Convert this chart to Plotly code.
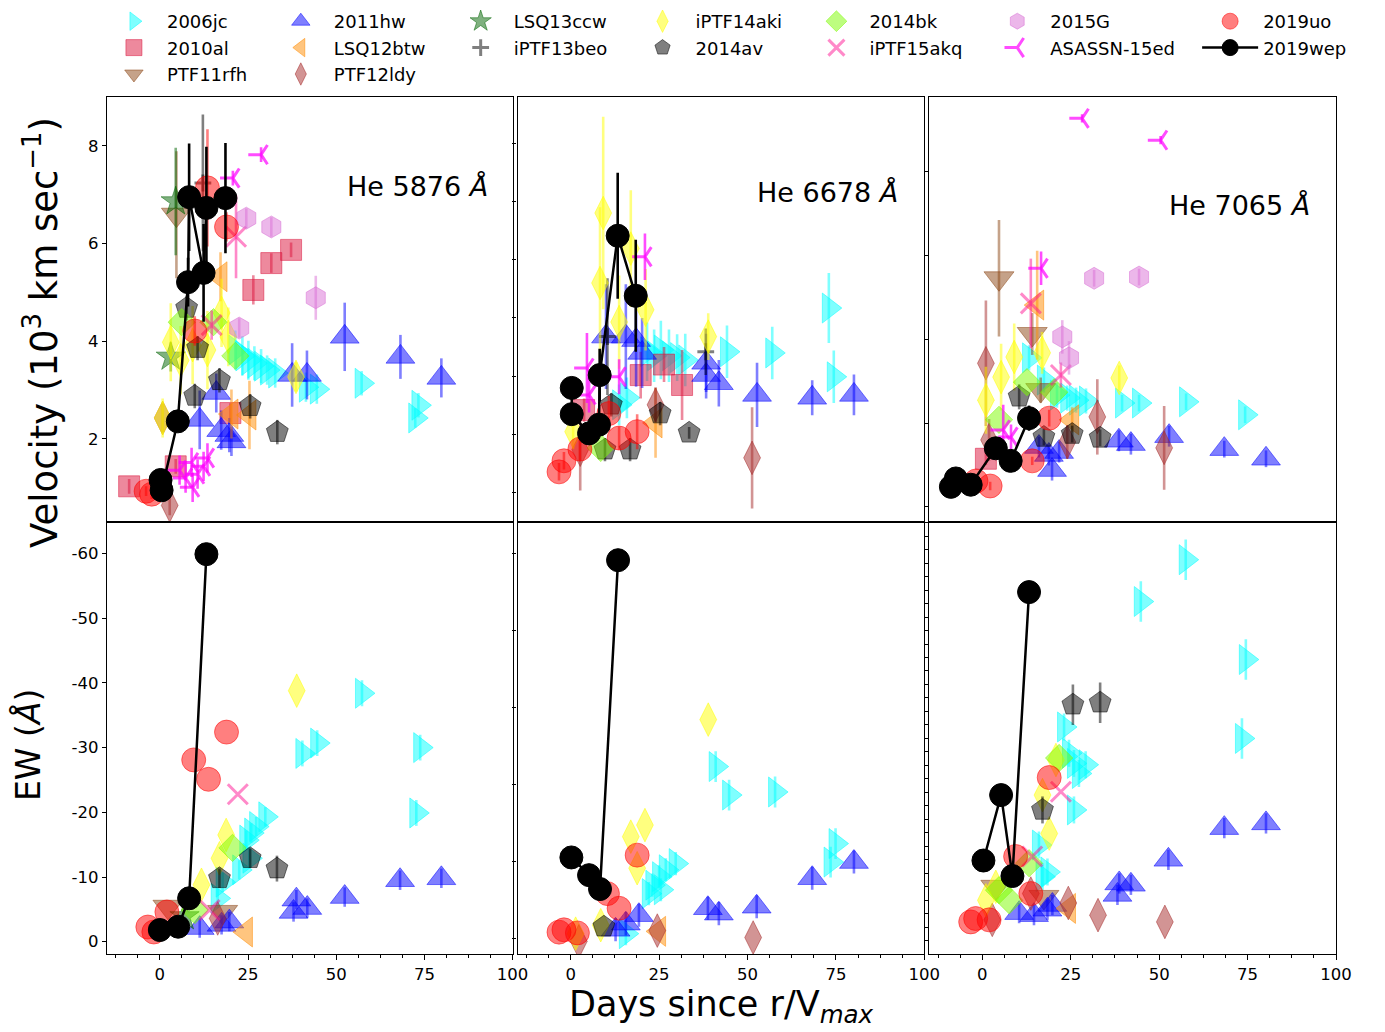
import plotly.graph_objects as go

# Panels: v1, v2, v3 = velocity (10^3 km/s) of He I 5876, 6678, 7065
#         e1, e2, e3 = equivalent width (Angstrom) of the same lines
# Each entry: (days since r/V max, values, 1-sigma errors or None)

SN2006jc = {
    'v1': ([21.4, 23.4, 25.1, 26.8, 28.7, 30.4, 32.7, 41.4, 44.5, 57.2, 73.3, 72.4],
           [3.82, 3.70, 3.61, 3.55, 3.49, 3.41, 3.35, 3.06, 3.02, 3.14, 2.69, 2.43],
           [0.4, 0.4, 0.4, 0.35, 0.35, 0.3, 0.3, 0.3, 0.3, 0.25, 0.25, 0.2]),
    'v2': ([13.7, 15.9, 21.6, 23.6, 25.5, 27.8, 30.1, 32.4, 44.2, 57.0, 73.0, 74.4],
           [2.51, 2.63, 3.42, 3.35, 3.45, 3.35, 3.32, 3.28, 3.42, 3.40, 4.17, 2.99],
           [0.35, 0.35, 0.5, 0.45, 0.5, 0.45, 0.4, 0.45, 0.45, 0.45, 0.6, 0.45]),
    'v3': ([13.2, 17.4, 21.1, 24.0, 26.5, 29.3, 39.5, 44.3, 57.6, 74.3],
           [3.56, 3.03, 2.67, 2.60, 2.55, 2.53, 2.48, 2.48, 2.51, 2.20],
           [0.3, 0.3, 0.3, 0.3, 0.3, 0.3, 0.2, 0.2, 0.2, 0.2]),
    'e1': ([16.4, 17.8, 22.5, 24.5, 25.4, 25.9, 27.3, 29.9, 40.4, 44.6, 57.3, 72.7, 73.8],
           [-6.7, -9.2, -11.1, -15.7, -12.9, -16.8, -17.8, -19.3, -29.1, -30.7, -38.4, -19.9, -30.0],
           [1.5, 1.5, 1.5, 1.5, 1.5, 1.5, 1.5, 1.5, 2.0, 2.0, 2.0, 2.0, 2.0]),
    'e2': ([15.6, 22.1, 23.1, 25.0, 25.5, 26.9, 29.7, 41.0, 44.8, 57.8, 73.5, 74.9],
           [-0.6, -5.8, -6.9, -8.0, -6.3, -8.9, -9.7, -22.3, -18.6, -19.0, -9.9, -12.3],
           [1.5, 1.5, 1.5, 1.5, 1.5, 1.5, 1.5, 2.0, 2.0, 2.0, 2.0, 2.0]),
    'e3': ([16.0, 17.0, 18.4, 23.1, 24.5, 25.9, 25.9, 27.3, 29.2, 44.8, 57.5, 73.4, 74.5],
           [-12.2, -7.5, -8.2, -29.7, -25.8, -24.3, -17.4, -22.8, -24.1, -48.3, -54.5, -28.0, -39.7],
           [2.0, 2.0, 2.0, 2.0, 2.0, 2.0, 2.0, 2.0, 2.0, 3.0, 3.0, 3.0, 3.0]),
}

SN2010al = {
    'v1': ([-8.7, 4.5, 20.0, 26.5, 31.6, 37.2],
           [1.03, 1.44, 2.53, 5.05, 5.60, 5.87],
           [0.15, 0.15, 0.2, 0.3, 0.2, 0.15]),
    'v2': ([3.8, 19.8, 26.4, 31.5],
           [2.42, 3.02, 3.20, 2.85],
           [0.2, 0.4, 0.3, 0.6]),
    'v3': ([1.0], [1.15], [0.15]),
}

PTF11rfh = {
    'v1': ([4.7], [6.59], [1.3]),
    'v3': ([4.7, 14.1, 16.5], [5.46, 4.13, 2.79], [1.39, 0.5, 0.3]),
    'e1': ([2.3, 17.8], [-5.4, -4.6], None),
    'e3': ([3.8, 17.4], [-6.0, -4.5], None),
}

SN2011hw = {
    'v1': ([11.3, 16.0, 17.4, 19.7, 20.3, 37.5, 41.7, 52.4, 68.2, 79.8],
           [2.39, 2.94, 2.18, 2.08, 1.95, 3.31, 3.31, 4.09, 3.68, 3.25],
           [0.6, 0.4, 0.4, 0.35, 0.3, 0.65, 0.5, 0.7, 0.45, 0.4]),
    'v2': ([10.0, 15.6, 18.5, 20.2, 38.3, 38.3, 41.9, 52.7, 68.3, 80.1],
           [3.68, 3.68, 3.62, 3.40, 3.23, 3.02, 2.88, 2.68, 2.63, 2.68],
           [0.9, 0.9, 0.8, 0.6, 0.5, 0.4, 0.4, 0.55, 0.3, 0.35]),
    'v3': ([16.0, 18.8, 19.7, 21.7, 38.6, 42.0, 52.8, 68.4, 80.2],
           [1.43, 1.24, 0.88, 1.31, 1.58, 1.50, 1.69, 1.38, 1.15],
           [0.25, 0.25, 0.25, 0.25, 0.25, 0.25, 0.25, 0.2, 0.2]),
    'e1': ([11.3, 17.5, 19.7, 37.9, 38.7, 41.8, 52.4, 68.1, 79.8],
           [-2.1, -2.6, -3.1, -4.6, -6.5, -5.2, -6.9, -9.5, -9.8],
           [1.5, 1.5, 1.5, 1.5, 1.5, 1.5, 1.5, 1.5, 1.5]),
    'e2': ([12.7, 15.6, 19.3, 38.8, 41.9, 52.6, 68.3, 80.1],
           [-1.1, -1.9, -3.0, -3.9, -3.2, -4.1, -7.8, -9.9],
           [1.5, 1.5, 1.5, 1.5, 1.5, 1.5, 1.5, 1.5]),
    'e3': ([10.4, 14.6, 18.4, 19.8, 38.2, 38.7, 42.0, 52.6, 68.4, 80.2],
           [-2.1, -1.8, -2.6, -3.3, -4.8, -6.5, -6.3, -10.0, -14.7, -15.4],
           [1.5, 1.5, 1.5, 1.5, 1.5, 1.5, 1.5, 1.5, 1.5, 1.5]),
}

LSQ12btw = {
    'v1': ([17.2, 20.3, 25.4], [5.32, 2.51, 2.49], [0.5, 0.5, 0.7]),
    'v2': ([24.0], [2.20], [0.6]),
    'v3': ([15.5, 25.4], [4.82, 2.08], [1.3, 0.3]),
    'e1': ([24.4], [-1.5], None),
    'e2': ([25.0], [-0.9], None),
    'e3': ([24.5], [-2.8], None),
}

PTF12ldy = {
    'v1': ([0.8, 2.8], [2.43, 0.64], [0.3, 0.2]),
    'v2': ([2.7, 24.0, 51.3], [1.74, 2.51, 1.60], [0.7, 0.3, 0.87]),
    'v3': ([1.0, 1.9, 24.0, 32.5, 51.4], [3.43, 1.60, 1.55, 2.15, 1.41], [1.5, 0.5, 0.4, 0.9, 1.0]),
    'e1': ([16.4], [-3.6], None),
    'e2': ([2.3, 24.5, 51.6], [0.4, -1.0, -0.1], None),
    'e3': ([2.8, 13.7, 24.3, 32.7, 51.6], [-1.1, -5.0, -3.6, -1.8, -0.8], None),
}

LSQ13ccw = {
    'v1': ([3.1, 4.5], [3.68, 6.86], [0.3, 1.1]),
    'e1': ([7.0], [-3.9], None),
}

iPTF13beo = {
    'v1': ([12.2], [7.24], [1.4]),
    'v2': ([10.4, 38.2], [3.68, 3.42], [1.0, 0.4]),
}

iPTF14aki = {
    'v1': ([0.8, 3.1, 5.9, 9.3, 13.5, 17.5, 19.4, 38.6],
           [2.43, 3.98, 3.61, 3.92, 3.82, 4.58, 4.09, 3.27],
           [0.4, 0.8, 0.7, 0.8, 0.8, 0.7, 0.6, 0.3]),
    'v2': ([0.7, 8.3, 9.2, 13.7, 17.0, 21.2, 38.9],
           [2.05, 4.60, 5.80, 3.93, 5.19, 4.14, 3.68],
           [0.3, 1.3, 1.65, 0.8, 1.0, 0.7, 0.4]),
    'v3': ([1.0, 5.3, 9.0, 16.9, 38.7],
           [2.55, 3.10, 3.58, 3.68, 3.08],
           [0.8, 0.8, 0.8, 0.5, 0.3]),
    'e1': ([11.8, 16.9, 18.8, 38.8], [-8.8, -12.9, -16.5, -38.8], None),
    'e2': ([1.4, 8.5, 17.0, 18.8, 21.0, 38.9], [-0.6, -1.7, -13.2, -9.1, -14.7, -28.4], None),
    'e3': ([1.0, 3.8, 17.0, 18.9, 20.8], [-4.0, -6.0, -19.6, -13.9, -24.8], None),
}

SN2014av = {
    'v1': ([7.6, 9.9, 10.7, 16.9, 25.6, 33.3], [4.68, 2.88, 3.86, 3.20, 2.67, 2.14],
           [0.25, 0.25, 0.25, 0.25, 0.25, 0.25]),
    'v2': ([9.7, 11.5, 16.8, 25.3, 33.5], [1.74, 2.51, 1.74, 2.36, 2.03], [0.2, 0.2, 0.2, 0.2, 0.1]),
    'v3': ([10.4, 17.4, 25.4, 33.3], [2.63, 1.67, 1.74, 1.65], [0.3, 0.2, 0.2, 0.2]),
    'e1': ([16.9, 25.6, 33.2], [-9.8, -12.9, -11.3], [1.5, 1.5, 2.0]),
    'e2': ([9.4], [-1.5], None),
    'e3': ([17.0, 25.6, 33.3], [-17.4, -33.0, -33.3], [2.0, 3.0, 3.0]),
}

SN2014bk = {
    'v1': ([6.2, 15.2, 21.4], [4.39, 4.39, 3.70], None),
    'v2': ([8.5], [1.77], None),
    'v3': ([4.7, 12.6, 20.3], [2.08, 2.98, 2.74], None),
    'e1': ([9.9, 20.6], [-4.9, -14.5], None),
    'e3': ([4.7, 7.6, 13.2, 21.7], [-5.5, -4.0, -9.5, -25.1], None),
}

iPTF15akq = {
    'v1': ([14.7, 21.6], [4.33, 6.14], [0.3, 0.85]),
    'v3': ([13.7, 22.2], [4.86, 3.15], [1.07, 0.3]),
    'e1': ([14.1, 22.1], [-4.9, -22.8], None),
    'e3': ([14.1, 22.2], [-10.5, -20.1], None),
}

SN2015G = {
    'v1': ([22.5, 24.5, 31.6, 44.2], [4.27, 6.52, 6.34, 4.89], [0.2, 0.2, 0.2, 0.45]),
    'v3': ([22.6, 24.5, 31.6, 44.3], [4.06, 3.56, 5.46, 5.49], [0.4, 0.4, 0.2, 0.2]),
}

ASASSN15ed = {
    'v1': ([5.6, 7.3, 9.0, 9.3, 10.7, 12.4, 13.5, 20.7, 28.7],
           [1.36, 1.20, 1.52, 1.01, 1.28, 1.44, 1.61, 7.34, 7.82],
           [0.3, 0.3, 0.3, 0.3, 0.3, 0.3, 0.3, 0.15, 0.15]),
    'v2': ([4.6, 5.2, 13.7, 21.0], [3.14, 2.68, 2.99, 5.05], [0.6, 0.3, 0.3, 0.4]),
    'v3': ([5.9, 8.1, 16.6, 28.2, 50.4], [1.84, 1.67, 5.70, 9.28, 8.76], [0.6, 0.3, 0.4, 0.1, 0.1]),
}

SN2019uo = {
    'v1': ([-3.9, -2.3, 9.9, 13.5, 18.9], [0.93, 0.87, 4.21, 7.14, 6.34], [0.1, 0.1, 0.3, 1.2, 0.3]),
    'v2': ([-3.3, -1.9, 2.6, 10.8, 13.7, 18.8], [1.36, 1.55, 1.75, 2.36, 1.94, 2.05],
           [0.15, 0.15, 0.2, 0.3, 0.2, 0.3]),
    'v3': ([-1.8, 2.2, 14.1, 18.9], [0.62, 0.50, 1.10, 2.12], [0.1, 0.1, 0.1, 0.2]),
    'e1': ([-3.4, -1.7, 2.0, 9.6, 13.8, 18.9], [-2.27, -1.50, -4.60, -28.1, -25.1, -32.4], None),
    'e2': ([-3.3, -1.9, 1.9, 10.4, 13.7, 18.8], [-0.8, -1.1, -0.7, -5.8, -3.9, -10.8], None),
    'e3': ([-3.3, -1.9, 1.9, 9.4, 13.7, 18.9], [-0.8, -1.3, -1.1, -10.5, -5.0, -22.2], None),
}

SN2019wep = {
    'v1': ([0.2, 0.5, 5.1, 8.0, 8.3, 12.4, 13.2, 18.6],
           [1.16, 0.95, 2.36, 5.21, 6.95, 5.40, 6.73, 6.93],
           [0.1, 0.1, 0.2, 0.5, 1.1, 1.0, 1.25, 1.13]),
    'v2': ([0.3, 0.3, 5.2, 8.0, 8.2, 13.3, 18.4],
           [2.80, 2.35, 2.02, 2.17, 3.02, 5.41, 4.38],
           [0.1, 0.1, 0.1, 0.1, 0.45, 1.08, 0.96]),
    'v3': ([-8.9, -7.5, -3.3, 3.8, 8.0, 13.2],
           [0.48, 0.68, 0.53, 1.40, 1.10, 2.12],
           [0.05, 0.05, 0.05, 0.1, 0.1, 0.3]),
    'e1': ([0.0, 5.2, 8.3, 13.2], [-1.81, -2.32, -6.71, -59.9], None),
    'e2': ([0.2, 5.2, 8.3, 13.4], [-10.5, -8.2, -6.4, -49.1], None),
    'e3': ([0.3, 5.3, 8.5, 13.2], [-9.9, -19.6, -7.6, -49.7], None),
}

LINE_LABELS = ['He 5876 <i>Å</i>', 'He 6678 <i>Å</i>', 'He 7065 <i>Å</i>']
EW_TICKS = [0, -10, -20, -30, -40, -50, -60]
VEL_TICKS = [2, 4, 6, 8]
DAY_TICKS = [0, 25, 50, 75, 100]

# ---------------- styles (not data) ----------------
SERIES = [
    ('2006jc', SN2006jc, 'triangle-right', (0, 255, 255), 0.5, 26, 1),
    ('2010al', SN2010al, 'square', (220, 20, 60), 0.5, 21, 1),
    ('PTF11rfh', PTF11rfh, 'triangle-down', (139, 69, 19), 0.5, 26, 1),
    ('2011hw', SN2011hw, 'triangle-up', (0, 0, 255), 0.5, 25, 2),
    ('LSQ12btw', LSQ12btw, 'triangle-left', (255, 140, 0), 0.5, 26, 2),
    ('PTF12ldy', PTF12ldy, 'diamond-tall', (165, 42, 42), 0.5, 24, 2),
    ('LSQ13ccw', LSQ13ccw, 'star', (0, 100, 0), 0.5, 22, 3),
    ('iPTF13beo', iPTF13beo, 'cross-thin', (0, 0, 0), 0.5, 12, 3),
    ('iPTF14aki', iPTF14aki, 'diamond-tall', (255, 255, 0), 0.5, 24, 4),
    ('2014av', SN2014av, 'pentagon', (0, 0, 0), 0.5, 23, 4),
    ('2014bk', SN2014bk, 'diamond', (124, 252, 0), 0.5, 21, 5),
    ('iPTF15akq', iPTF15akq, 'x-thin', (255, 20, 147), 0.5, 20, 5),
    ('2015G', SN2015G, 'hexagon', (218, 112, 214), 0.5, 22, 6),
    ('ASASSN-15ed', ASASSN15ed, 'y-left', (255, 0, 255), 0.7, 16, 6),
    ('2019uo', SN2019uo, 'circle', (255, 0, 0), 0.5, 24, 7),
    ('2019wep', SN2019wep, 'circle', (0, 0, 0), 1.0, 23, 7),
]
PANEL_INDEX = {'v1': 1, 'v2': 2, 'v3': 3, 'e1': 4, 'e2': 5, 'e3': 6}
LINE_SYMBOLS = {'cross-thin', 'x-thin', 'y-left'}

W, H = 1385, 1032
WX = 1370.0   # effective horizontal extent the page is rendered into
col_px = [(107, 513), (518, 925), (930, 1337)]
row_px = [(97, 522), (522, 954)]
y_ranges = {1: [0.30, 9.00], 2: [0.50, 7.79], 3: [-0.36, 9.79],
            4: [1.90, -64.87], 5: [2.04, -54.06], 6: [3.96, -60.09]}
y_dticks = {1: 2, 2: 1, 3: 2, 4: 10, 5: 10, 6: 10}

fig = go.Figure()

for name, data, symbol, rgb, alpha, size, leg in SERIES:
    col = 'rgba(%d,%d,%d,%.2f)' % (rgb[0], rgb[1], rgb[2], alpha)
    first = True
    for key in ['v1', 'v2', 'v3', 'e1', 'e2', 'e3']:
        if key not in data:
            continue
        days, vals, errs = data[key]
        i = PANEL_INDEX[key]
        is_line_sym = symbol in LINE_SYMBOLS
        marker = dict(symbol=symbol, size=size, color=col,
                      line=dict(color=col, width=3 if is_line_sym else 1))
        tr = dict(
            x=days, y=vals, name=name, legendgroup=name,
            legend='legend' if leg == 1 else 'legend%d' % leg,
            showlegend=first,
            mode='lines+markers' if name == '2019wep' else 'markers',
            marker=marker,
            xaxis='x%d' % i, yaxis='y%d' % i,
            hoverinfo='skip',
        )
        if name == '2019wep':
            tr['line'] = dict(color='black', width=2.5)
        if errs is not None:
            tr['error_y'] = dict(type='data', array=errs, visible=True,
                                 color=col, thickness=2.6, width=0)
        fig.add_trace(go.Scatter(**tr))
        first = False

layout = dict(
    width=W, height=H, autosize=False,
    margin=dict(l=0, r=0, t=0, b=0),
    paper_bgcolor='white', plot_bgcolor='white',
    font=dict(family='DejaVu Sans', size=16.5, color='black'),
)

for i in range(1, 7):
    r = 0 if i <= 3 else 1
    c = (i - 1) % 3
    x0, x1 = col_px[c]
    y0, y1 = row_px[r]
    xa = dict(domain=[x0 / WX, x1 / WX], anchor='y%d' % i, range=[-15, 100],
              showline=True, linecolor='black', linewidth=1.3, mirror=True,
              showgrid=False, zeroline=False)
    if r == 1:
        xa.update(tickvals=DAY_TICKS, ticktext=[str(t) for t in DAY_TICKS],
                  ticks='outside', ticklen=5,
                  tickwidth=1.2, tickcolor='black', showticklabels=True,
                  tickfont=dict(size=16.5),
                  minor=dict(tick0=0, dtick=6.25, ticks='outside', ticklen=3,
                             tickwidth=1, tickcolor='black'))
    else:
        xa.update(ticks='', showticklabels=False)
    ya = dict(domain=[1 - y1 / H, 1 - y0 / H], anchor='x%d' % i,
              range=y_ranges[i], tick0=0, dtick=y_dticks[i],
              showline=True, linecolor='black', linewidth=1.3, mirror=True,
              showgrid=False, zeroline=False, ticks='outside', ticklen=4,
              tickwidth=1.2, tickcolor='black',
              showticklabels=(c == 0), tickfont=dict(size=16.5))
    if i == 1:
        ya.update(tickmode='array', tickvals=VEL_TICKS, ticktext=[str(t) for t in VEL_TICKS])
    if i == 4:
        ya.update(tickmode='array', tickvals=EW_TICKS, ticktext=[str(t) for t in EW_TICKS])
    if i == 6:
        ya['minor'] = dict(tick0=0, dtick=2, ticks='outside', ticklen=3,
                           tickwidth=1, tickcolor='black')
    layout['xaxis%d' % i] = xa
    layout['yaxis%d' % i] = ya

legend_text_px = [166, 333, 513, 695, 869, 1050, 1263]
for k, tx in enumerate(legend_text_px, start=1):
    key = 'legend' if k == 1 else 'legend%d' % k
    layout[key] = dict(x=(tx - 65) / WX, xanchor='left', y=1 - 3 / H, yanchor='top',
                       orientation='v', bgcolor='rgba(0,0,0,0)', borderwidth=0,
                       font=dict(size=18, family='DejaVu Sans'), itemwidth=56,
                       tracegroupgap=0, itemclick=False, itemdoubleclick=False)

annotations = [
    dict(text='Velocity (10<sup>3</sup> km sec<sup>−1</sup>)', x=41 / WX, y=1 - 332 / H,
         xref='paper', yref='paper', showarrow=False, textangle=-90,
         font=dict(size=37), xanchor='center', yanchor='middle'),
    dict(text='EW (<i>Å</i>)', x=28 / WX, y=1 - 745 / H, xref='paper', yref='paper',
         showarrow=False, textangle=-90, font=dict(size=33),
         xanchor='center', yanchor='middle'),
    dict(text='Days since r/V<sub><i>max</i></sub>', x=722 / WX, y=1 - 1006 / H,
         xref='paper', yref='paper', showarrow=False, font=dict(size=35),
         xanchor='center', yanchor='middle'),
]
label_pos = [(490, 186), (901, 192), (1313, 205)]
for lab, (px, py) in zip(LINE_LABELS, label_pos):
    annotations.append(dict(text=lab, x=px / WX, y=1 - py / H, xref='paper', yref='paper',
                            showarrow=False, font=dict(size=27),
                            xanchor='right', yanchor='middle'))
layout['annotations'] = annotations

fig.update_layout(**layout)
fig.write_html(
    'out.html',
    config={'displayModeBar': False, 'responsive': False},
    post_script="document.body.style.margin='0px';document.body.style.overflow='hidden';",
)
